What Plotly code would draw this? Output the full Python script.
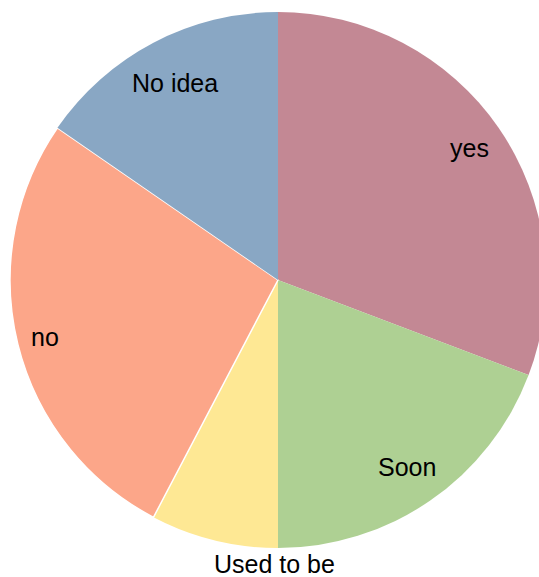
import math
import plotly.graph_objects as go

# Survey answers, counted per response
labels = ["yes", "Soon", "Used to be", "no", "No idea"]
counts = [8, 5, 2, 7, 4]
colors = ["#c38894", "#aed093", "#fee894", "#fca689", "#89a7c4"]
outside = [False, False, True, False, False]
edge_widths = [0, 0, 0, 1.5, 0]

W, H = 556, 577
FONT = "Liberation Sans, Arial, sans-serif"
FSIZE = 25

# pie placement in pixels (square domain)
CX, CY, R = 278, 280, 268
dom_x = [(CX - R) / W, (CX + R) / W]
dom_y = [1 - (CY + R) / H, 1 - (CY - R) / H]

fig = go.Figure(
    go.Pie(
        labels=labels,
        values=counts,
        sort=False,
        direction="clockwise",
        rotation=0,
        marker=dict(colors=colors, line=dict(color="white", width=edge_widths)),
        textinfo="none",
        showlegend=False,
        hoverinfo="label+value+percent",
        domain=dict(x=dom_x, y=dom_y),
    )
)

# Arial / Liberation Sans advance widths (per 1000 em)
ADV = {"a": 556, "b": 556, "d": 556, "e": 556, "i": 222, "n": 556, "o": 556,
       "s": 500, "t": 278, "y": 500, "S": 667, "N": 722, "U": 722, " ": 278}


def text_width(s):
    return sum(ADV.get(ch, 556) for ch in s) * FSIZE / 1000


total = sum(counts)
start = 0.0
annotations = []
for lab, val, out in zip(labels, counts, outside):
    mid = (start + val / 2) / total * 2 * math.pi  # clockwise from 12 o'clock
    start += val
    ux, uy = math.sin(mid), -math.cos(mid)  # screen direction (y down)
    if out:
        # outside label hangs just below the rim
        rr = 1.03 * R
        px, py = CX + rr * ux, CY + rr * uy
        xa, ya = "left", "top"
    else:
        # push the label box outward until its far corner reaches the inner ring
        hw, hh = text_width(lab) / 2, FSIZE / 2 + 2
        r0 = 0.958 * R
        b = abs(ux) * hw + abs(uy) * hh
        t = -b + math.sqrt(b * b - (hw * hw + hh * hh - r0 * r0))
        px, py = CX + t * ux, CY + t * uy
        xa, ya = "center", "middle"
    annotations.append(dict(
        x=px / W, y=1 - py / H, xref="paper", yref="paper",
        text=lab, showarrow=False, xanchor=xa, yanchor=ya,
        font=dict(family=FONT, size=FSIZE, color="black"),
    ))

fig.update_layout(
    width=W,
    height=H,
    margin=dict(l=0, r=0, t=0, b=0),
    paper_bgcolor="white",
    plot_bgcolor="white",
    annotations=annotations,
)

fig.write_html(
    "out.html",
    post_script="document.body.style.margin='0';document.body.style.overflow='hidden';",
)
